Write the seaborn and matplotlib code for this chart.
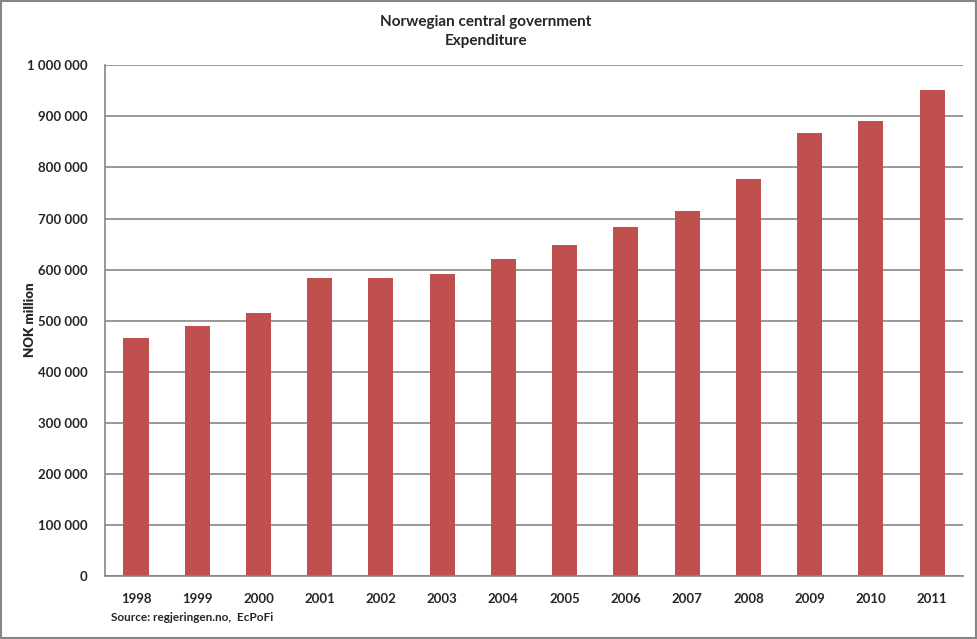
"""
Norwegian central government - Expenditure (NOK million)
"""

import numpy as np
import pandas as pd
import matplotlib
matplotlib.use("Agg")
import matplotlib.pyplot as plt
from matplotlib.ticker import FuncFormatter, MultipleLocator
from matplotlib.patches import Rectangle
import seaborn as sns

# Données
annees = ["1998", "1999", "2000", "2001", "2002", "2003", "2004",
          "2005", "2006", "2007", "2008", "2009", "2010", "2011"]
depenses = [466000, 490000, 515000, 584000, 584000, 592000, 621000,
            648000, 683000, 715000, 777000, 867000, 891000, 952000]

titre = "Norwegian central government\nExpenditure"
label_y = "NOK million"
source = "Source: regjeringen.no,  EcPoFi"

ROUGE = "#C0504D"
GRIS = "#868686"


def format_milliers(v, pos):
    return f"{int(v):,}".replace(",", " ")


def main():
    sns.set_style("white")
    plt.rcParams["font.family"] = ["Lato", "DejaVu Sans"]

    df = pd.DataFrame({"annee": annees, "depense": depenses})

    fig = plt.figure(figsize=(9.78, 6.39), dpi=100)
    ax = fig.add_axes([0.1077, 0.0986, 0.8767, 0.7992])

    sns.barplot(data=df, x="annee", y="depense", color=ROUGE,
                saturation=1, width=0.41, linewidth=0, ax=ax)

    ax.set_ylim(0, 1000000)
    ax.set_xlim(-0.5, len(annees) - 0.5)
    ax.yaxis.set_major_locator(MultipleLocator(100000))
    ax.yaxis.set_major_formatter(FuncFormatter(format_milliers))
    ax.grid(axis="y", color=GRIS, linewidth=1.2)
    ax.set_axisbelow(True)

    for s in ["top", "right"]:
        ax.spines[s].set_visible(False)
    for s in ["left", "bottom"]:
        ax.spines[s].set_color(GRIS)
        ax.spines[s].set_linewidth(1.2)

    ax.tick_params(axis="both", length=0, labelsize=9.5)
    ax.tick_params(axis="y", pad=13)
    ax.tick_params(axis="x", pad=12)
    for lab in ax.get_xticklabels() + ax.get_yticklabels():
        lab.set_fontweight("bold")

    ax.set_xlabel("")
    ax.set_ylabel("")
    fig.text(0.031, 0.5, label_y, rotation=90, ha="center", va="center",
             fontsize=9.5, fontweight="heavy")

    fig.text(0.497, 0.951, titre, ha="center", va="center", fontsize=11,
             fontweight="bold", linespacing=1.45)
    fig.text(0.113, 0.034, source, ha="left", va="center",
             fontsize=8.5, fontweight="bold")

    # Cadre gris autour du graphique
    fig.patches.append(Rectangle((0.001, 0.002), 0.997, 0.996,
                                 transform=fig.transFigure, fill=False,
                                 edgecolor=GRIS, linewidth=1.5))

    fig.savefig("out.png", dpi=100)
    plt.close(fig)


if __name__ == "__main__":
    main()
